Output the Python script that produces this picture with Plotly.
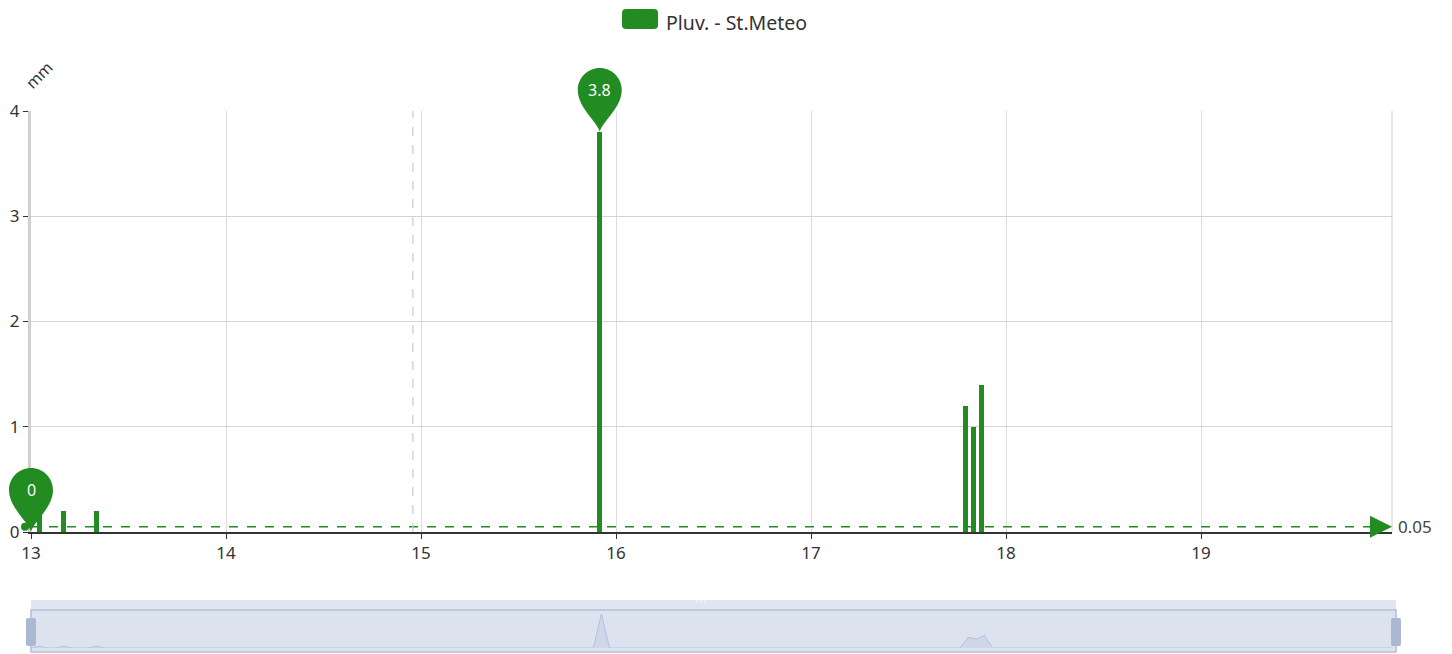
import pandas as pd
import plotly.graph_objects as go

# hourly rain readings (mm)
times = ["2024-03-13 00:00", "2024-03-13 01:00", "2024-03-13 02:00", "2024-03-13 03:00",
         "2024-03-13 04:00", "2024-03-13 05:00", "2024-03-13 07:00", "2024-03-13 08:00",
         "2024-03-13 09:00", "2024-03-15 21:00", "2024-03-15 22:00", "2024-03-15 23:00",
         "2024-03-17 18:00", "2024-03-17 19:00", "2024-03-17 20:00", "2024-03-17 21:00",
         "2024-03-17 22:00", "2024-03-19 23:00"]
values = [0, 0.2, 0, 0, 0.2, 0, 0, 0.2, 0, 0, 3.8, 0, 0, 1.2, 1.0, 1.4, 0, 0]

series_name = "Pluv. - St.Meteo"
avg_value = 0.05
marker_time = "2024-03-14 23:00"
x_range = ["2024-03-13 00:00", "2024-03-19 23:30"]
y_range = [0, 4]
y_ticks = [0, 1, 2, 3, 4]
x_ticks = ["2024-03-13", "2024-03-14", "2024-03-15", "2024-03-16", "2024-03-17", "2024-03-18", "2024-03-19"]
x_labels = ["13", "14", "15", "16", "17", "18", "19"]

green = "#228B22"
font = "Noto Sans"
# page body has an 8px margin, so the figure is shifted by 8px
W, H = 1444, 646
L, R, T, B = 23, 56, 103, 2
ph = H - T - B
pw = W - L - R
xdom = (pw - 4) / pw


def py(y):
    # screen y (px) -> paper fraction
    return (H - B - (y - 8)) / ph


ydom0 = py(532)


def to_paper(t, v):
    t0, t1 = pd.Timestamp(x_range[0]), pd.Timestamp(x_range[1])
    xp = xdom * (pd.Timestamp(t) - t0) / (t1 - t0)
    yp = ydom0 + (1 - ydom0) * (v - y_range[0]) / (y_range[1] - y_range[0])
    return xp, yp


fig = go.Figure()

fig.add_trace(go.Bar(
    x=times, y=values, width=2215000, marker=dict(color=green, line_width=0),
    name=series_name, showlegend=False, xaxis="x", yaxis="y",
))

# dataZoom shadow
fig.add_trace(go.Scatter(
    x=times, y=values, mode="lines", line=dict(color="#b3c2e0", width=1),
    fill="tozeroy", fillcolor="rgba(160,180,220,0.25)", showlegend=False,
    hoverinfo="skip", xaxis="x2", yaxis="y2",
))


def pin(t, v, label):
    xp, yp = to_paper(t, v)
    p = ("M 0,0 C -2,10 -22,24 -22,42 C -22,54.15 -12.15,64 0,64 "
         "C 12.15,64 22,54.15 22,42 C 22,24 2,10 0,0 Z")
    fig.add_shape(type="path", xref="paper", yref="paper", xsizemode="pixel", ysizemode="pixel",
                  xanchor=xp, yanchor=yp, path=p, fillcolor=green, line_width=0, layer="above")
    fig.add_annotation(x=t, y=v, xref="x", yref="y", text=label, showarrow=False,
                       yshift=42, font=dict(color="white", size=16, family=font))


imax = values.index(max(values))
imin = values.index(min(values))

# average mark line
fig.add_shape(type="line", xref="x domain", yref="y", x0=0, x1=1, y0=avg_value, y1=avg_value,
              line=dict(color=green, width=1.5, dash="dash"))
fig.add_annotation(x=1, y=avg_value, xref="x domain", yref="y", ax=-24, ay=0, text="",
                   showarrow=True, arrowhead=2, arrowsize=2.2, arrowwidth=2, arrowcolor=green)
fig.add_annotation(x=1, y=avg_value, xref="x domain", yref="y", text=str(avg_value),
                   showarrow=False, xanchor="left", xshift=4,
                   font=dict(size=17, color="#444", family=font))

pin(times[imin], values[imin], str(values[imin]))
pin(times[imax], values[imax], str(values[imax]))

# start dot of the average line
ax0, ay0 = to_paper(x_range[0], avg_value)
fig.add_shape(type="circle", xref="paper", yref="paper", xsizemode="pixel", ysizemode="pixel",
              xanchor=ax0, yanchor=ay0, x0=-10, x1=-2, y0=-4, y1=4,
              fillcolor=green, line_width=0, layer="above")

# dashed vertical marker
fig.add_shape(type="line", xref="x", yref="y domain", x0=marker_time, x1=marker_time, y0=0, y1=1,
              line=dict(color="#cccccc", width=1.2, dash="dash"))
# right border
fig.add_shape(type="line", xref="x domain", yref="y domain", x0=1, x1=1, y0=0, y1=1,
              line=dict(color="#cccccc", width=1))

# y axis name
fig.add_annotation(x=0, y=1, xref="x domain", yref="y domain", text="mm", showarrow=False,
                   textangle=-45, xanchor="center", yanchor="middle", xshift=8, yshift=36,
                   font=dict(size=16, color="#333", family=font))

# legend (drawn)
fig.add_shape(type="path", xref="paper", yref="paper", xsizemode="pixel", ysizemode="pixel",
              xanchor=0, yanchor=1,
              path="M 595,82 L 623,82 Q 627,82 627,86 L 627,98 Q 627,102 623,102 L 595,102 "
                   "Q 591,102 591,98 L 591,86 Q 591,82 595,82 Z",
              fillcolor=green, line_width=0)
fig.add_annotation(x=0, y=1, xref="paper", yref="paper", text=series_name, showarrow=False,
                   xanchor="left", yanchor="middle", xshift=634, yshift=89, borderpad=0,
                   font=dict(size=19.5, color="#333", family=font))

# dataZoom frame
fig.add_shape(type="rect", xref="paper", yref="paper", x0=0, x1=1, y0=py(610), y1=py(600),
              fillcolor="#dfe6f3", line_width=0, layer="below")
fig.add_shape(type="rect", xref="paper", yref="paper", x0=0, x1=1, y0=py(652), y1=py(610),
              fillcolor="#dde3ee", line=dict(color="#b5c0d5", width=1.5), layer="below")
for xa in (0, 1):
    fig.add_shape(type="path", xref="paper", yref="paper", xsizemode="pixel", ysizemode="pixel",
                  xanchor=xa, yanchor=py(632),
                  path="M -3,-14 L 3,-14 Q 5,-14 5,-12 L 5,12 Q 5,14 3,14 L -3,14 "
                       "Q -5,14 -5,12 L -5,-12 Q -5,-14 -3,-14 Z",
                  fillcolor="#aab8d2", line_width=0)
fig.add_annotation(x=0.5, y=py(605), xref="paper", yref="paper", text="|||", showarrow=False,
                   font=dict(size=7, color="white"), xshift=-13)

fig.update_layout(
    width=W, height=H,
    margin=dict(l=L, r=R, t=T, b=B, autoexpand=False),
    plot_bgcolor="white", paper_bgcolor="white",
    font=dict(family=font, size=16, color="#333"),
    bargap=0,
    xaxis=dict(
        domain=[0, xdom], range=x_range, type="date", automargin=False,
        tickvals=x_ticks, ticktext=x_labels,
        showgrid=True, gridcolor="#dddddd", gridwidth=1,
        showline=True, linecolor="#333", linewidth=1.5,
        ticks="outside", ticklen=5, tickcolor="#333",
        tickfont=dict(size=17, color="#333"), zeroline=False,
    ),
    yaxis=dict(
        domain=[ydom0, 1], range=y_range, tickvals=y_ticks, automargin=False,
        showgrid=True, gridcolor="#d4d4d4", gridwidth=1,
        showline=True, linecolor="#d0d0d0", linewidth=3,
        ticks="outside", ticklen=5, tickcolor="#333",
        tickfont=dict(size=17, color="#333"), zeroline=False,
    ),
    xaxis2=dict(domain=[0, 1], range=x_range, type="date", anchor="y2", visible=False,
                automargin=False),
    yaxis2=dict(domain=[py(648), py(614)], range=[0, 3.8], anchor="x2", visible=False,
                automargin=False),
)

fig.write_html("out.html")
